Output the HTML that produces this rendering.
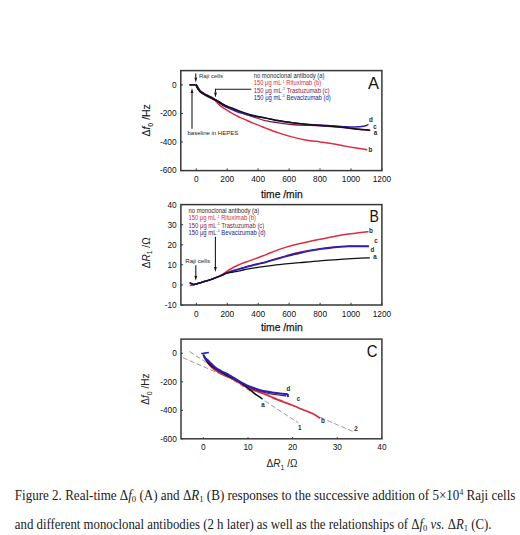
<!DOCTYPE html>
<html><head><meta charset="utf-8"><style>
html,body{margin:0;padding:0;background:#fff;}
svg{display:block;}
</style></head><body>
<svg width="520" height="535" viewBox="0 0 520 535">
<rect width="520" height="535" fill="#fff"/>
<rect x="180.8" y="70.6" width="201.1" height="100.0" fill="none" stroke="#363636" stroke-width="1.5"/>
<line x1="196.3" y1="170.6" x2="196.3" y2="168.4" stroke="#363636" stroke-width="1"/>
<text x="196.3" y="182.2" font-size="8.3" text-anchor="middle" font-weight="normal" fill="#111" font-family='"Liberation Sans", sans-serif' >0</text>
<line x1="227.2" y1="170.6" x2="227.2" y2="168.4" stroke="#363636" stroke-width="1"/>
<text x="227.2" y="182.2" font-size="8.3" text-anchor="middle" font-weight="normal" fill="#111" font-family='"Liberation Sans", sans-serif' >200</text>
<line x1="258.1" y1="170.6" x2="258.1" y2="168.4" stroke="#363636" stroke-width="1"/>
<text x="258.1" y="182.2" font-size="8.3" text-anchor="middle" font-weight="normal" fill="#111" font-family='"Liberation Sans", sans-serif' >400</text>
<line x1="289.1" y1="170.6" x2="289.1" y2="168.4" stroke="#363636" stroke-width="1"/>
<text x="289.1" y="182.2" font-size="8.3" text-anchor="middle" font-weight="normal" fill="#111" font-family='"Liberation Sans", sans-serif' >600</text>
<line x1="320.0" y1="170.6" x2="320.0" y2="168.4" stroke="#363636" stroke-width="1"/>
<text x="320.0" y="182.2" font-size="8.3" text-anchor="middle" font-weight="normal" fill="#111" font-family='"Liberation Sans", sans-serif' >800</text>
<line x1="351.0" y1="170.6" x2="351.0" y2="168.4" stroke="#363636" stroke-width="1"/>
<text x="351.0" y="182.2" font-size="8.3" text-anchor="middle" font-weight="normal" fill="#111" font-family='"Liberation Sans", sans-serif' >1000</text>
<line x1="381.9" y1="170.6" x2="381.9" y2="168.4" stroke="#363636" stroke-width="1"/>
<text x="381.9" y="182.2" font-size="8.3" text-anchor="middle" font-weight="normal" fill="#111" font-family='"Liberation Sans", sans-serif' >1200</text>
<line x1="183.0" y1="84.9" x2="180.8" y2="84.9" stroke="#363636" stroke-width="1"/>
<text x="176.6" y="87.5" font-size="8.3" text-anchor="end" font-weight="normal" fill="#111" font-family='"Liberation Sans", sans-serif' >0</text>
<line x1="183.0" y1="113.5" x2="180.8" y2="113.5" stroke="#363636" stroke-width="1"/>
<text x="176.6" y="116.1" font-size="8.3" text-anchor="end" font-weight="normal" fill="#111" font-family='"Liberation Sans", sans-serif' >-200</text>
<line x1="183.0" y1="142.0" x2="180.8" y2="142.0" stroke="#363636" stroke-width="1"/>
<text x="176.6" y="144.6" font-size="8.3" text-anchor="end" font-weight="normal" fill="#111" font-family='"Liberation Sans", sans-serif' >-400</text>
<line x1="183.0" y1="170.6" x2="180.8" y2="170.6" stroke="#363636" stroke-width="1"/>
<text x="176.6" y="173.2" font-size="8.3" text-anchor="end" font-weight="normal" fill="#111" font-family='"Liberation Sans", sans-serif' >-600</text>
<text x="281.8" y="197.9" font-size="10.3" text-anchor="middle" font-weight="normal" fill="#1a1a1a" font-family='"Liberation Sans", sans-serif' stroke="#1a1a1a" stroke-width="0.25">time /min</text>
<text transform="translate(150.0,120.4) rotate(-90)" font-size="10.4" text-anchor="middle" fill="#1a1a1a" stroke="#1a1a1a" stroke-width="0.12" font-family='"Liberation Sans", sans-serif'>&#916;<tspan font-style="italic">f</tspan><tspan font-size="7" dy="2.5">0</tspan><tspan dy="-2.5"> /Hz</tspan></text>
<text transform="translate(368.00,88.50) scale(1.03,1)" font-size="16" text-anchor="start" font-weight="normal" fill="#111" font-family='"Liberation Sans", sans-serif' >A</text>
<text x="253.7" y="78.2" font-size="6.3" fill="#2a2a2a" font-family='"Liberation Sans", sans-serif' textLength="70.8" lengthAdjust="spacingAndGlyphs">no monoclonal antibody (a)</text>
<text x="253.7" y="85.4" font-size="6.3" fill="#dc2c40" font-family='"Liberation Sans", sans-serif' textLength="67.4" lengthAdjust="spacingAndGlyphs">150 &#956;g mL<tspan font-size="4" dy="-2.6">-1</tspan><tspan dy="2.6"> Rituximab (b)</tspan></text>
<text x="253.7" y="92.5" font-size="6.3" fill="#7e1c44" font-family='"Liberation Sans", sans-serif' textLength="75.8" lengthAdjust="spacingAndGlyphs">150 &#956;g mL<tspan font-size="4" dy="-2.6">-1</tspan><tspan dy="2.6"> Trastuzumab (c)</tspan></text>
<text x="253.7" y="99.7" font-size="6.3" fill="#22228a" font-family='"Liberation Sans", sans-serif' textLength="77.0" lengthAdjust="spacingAndGlyphs">150 &#956;g mL<tspan font-size="4" dy="-2.6">-1</tspan><tspan dy="2.6"> Bevacizumab (d)</tspan></text>
<text x="198.9" y="77.9" font-size="6" text-anchor="start" font-weight="normal" fill="#2a2a2a" font-family='"Liberation Sans", sans-serif' >Raji cells</text>
<text x="187.5" y="134.8" font-size="6" text-anchor="start" font-weight="normal" fill="#222" font-family='"Liberation Sans", sans-serif' >baseline in HEPES</text>
<path d="M195.8,73.5 V77.6" stroke="#1a1a1a" stroke-width="1.1" fill="none"/>
<path d="M194.40,77.6 L195.8,82.6 L197.20,77.6 Z" fill="#111"/>
<path d="M192.0,128.7 V93.0" stroke="#1a1a1a" stroke-width="1.1" fill="none"/>
<path d="M190.60,93.0 L192.0,88.0 L193.40,93.0 Z" fill="#111"/>
<path d="M251.3,89.3 H215.5" stroke="#1a1a1a" stroke-width="1.1" fill="none"/>
<path d="M215.5,88.8 V92.6" stroke="#1a1a1a" stroke-width="1.1" fill="none"/>
<path d="M214.10,92.6 L215.5,97.6 L216.90,92.6 Z" fill="#111"/>
<path d="M189.3,84.9 H195.8" stroke="#111" stroke-width="1.8" fill="none"/>
<path d="M195.6,84.6 C195.8,84.8 196.1,85.0 196.5,85.6 C196.9,86.2 197.4,87.4 198.0,88.4 C198.6,89.4 199.2,90.5 200.2,91.4 C201.2,92.4 203.1,93.4 204.2,94.1 C205.3,94.8 205.9,95.0 206.7,95.4 C207.5,95.8 207.8,96.0 209.0,96.6 C210.2,97.2 212.0,98.1 213.6,99.0 C215.2,99.9 217.2,101.1 218.7,102.0 C220.2,102.9 221.1,103.6 222.5,104.4 C223.9,105.2 226.2,106.4 226.9,106.8" stroke="#1a0a1a" stroke-width="2.3" fill="none"/>
<path d="M195.6,84.6 C195.8,84.8 196.1,85.0 196.5,85.6 C196.9,86.2 197.4,87.4 198.0,88.4 C198.6,89.4 199.2,90.5 200.2,91.4 C201.2,92.4 203.1,93.4 204.2,94.1 C205.3,94.8 205.9,95.0 206.7,95.4 C207.5,95.8 207.8,96.0 209.0,96.6 C210.2,97.2 212.2,98.0 213.6,99.0 C215.0,100.0 216.2,101.6 217.5,102.9 C218.8,104.2 219.9,105.5 221.5,106.7 C223.1,107.9 224.9,109.0 226.9,110.2 C228.9,111.5 231.3,113.0 233.6,114.2 C235.8,115.4 238.2,116.5 240.4,117.6 C242.7,118.6 244.9,119.5 247.1,120.5 C249.3,121.5 251.6,122.5 253.8,123.4 C256.1,124.3 258.7,125.3 260.6,126.1 C262.5,126.8 262.0,126.8 265.0,127.9 C268.0,129.0 274.0,131.4 278.5,132.9 C283.0,134.4 287.4,135.7 291.9,136.9 C296.4,138.1 300.7,139.1 305.4,139.9 C310.1,140.7 315.6,141.3 320.0,141.9 C324.4,142.5 327.7,142.9 331.5,143.6 C335.3,144.2 339.1,145.1 343.0,145.8 C346.9,146.5 350.6,147.1 354.6,147.8 C358.7,148.5 365.2,149.5 367.3,149.8" stroke="#dc2c40" stroke-width="1.5" fill="none"/>
<path d="M195.6,84.6 C195.8,84.8 196.1,85.0 196.5,85.6 C196.9,86.2 197.4,87.4 198.0,88.4 C198.6,89.4 199.2,90.5 200.2,91.4 C201.2,92.4 203.1,93.4 204.2,94.1 C205.3,94.8 205.9,95.0 206.7,95.4 C207.5,95.8 207.8,96.0 209.0,96.6 C210.2,97.2 212.0,98.1 213.6,99.0 C215.2,99.9 217.2,101.0 218.7,101.9 C220.2,102.8 221.1,103.4 222.5,104.2 C223.9,105.0 225.1,105.7 226.9,106.5 C228.8,107.3 231.3,108.3 233.6,109.3 C235.8,110.2 238.2,111.3 240.4,112.2 C242.7,113.1 244.9,114.1 247.1,114.9 C249.3,115.7 250.8,116.1 253.8,117.1 C256.8,118.0 260.9,119.6 265.0,120.6 C269.1,121.5 274.0,122.1 278.5,122.8 C283.0,123.5 287.4,124.1 291.9,124.5 C296.4,124.9 300.7,125.1 305.4,125.3 C310.1,125.5 313.7,125.5 320.0,125.9 C326.3,126.3 337.2,127.1 343.0,127.6 C348.8,128.1 351.1,128.6 354.6,129.0 C358.1,129.4 361.2,129.6 363.8,129.9 C366.4,130.2 369.1,130.5 370.2,130.6" stroke="#7e1c44" stroke-width="1.3" fill="none"/>
<path d="M195.6,84.6 C195.8,84.8 196.1,85.0 196.5,85.6 C196.9,86.2 197.4,87.4 198.0,88.4 C198.6,89.4 199.2,90.5 200.2,91.4 C201.2,92.4 203.1,93.4 204.2,94.1 C205.3,94.8 205.9,95.0 206.7,95.4 C207.5,95.8 207.8,96.0 209.0,96.6 C210.2,97.2 212.0,98.1 213.6,99.0 C215.2,99.9 217.2,101.0 218.7,101.9 C220.2,102.8 221.1,103.7 222.5,104.6 C223.9,105.5 225.1,106.5 226.9,107.4 C228.8,108.4 231.3,109.4 233.6,110.3 C235.8,111.2 238.2,112.2 240.4,112.9 C242.7,113.6 244.9,114.1 247.1,114.6 C249.3,115.1 251.6,115.5 253.8,116.0 C256.1,116.5 257.9,116.8 260.6,117.3 C263.3,117.8 267.0,118.4 270.0,119.0 C273.0,119.6 274.9,120.1 278.5,120.7 C282.1,121.3 287.4,122.0 291.9,122.6 C296.4,123.2 300.7,123.7 305.4,124.1 C310.1,124.5 315.6,124.6 320.0,124.9 C324.4,125.2 327.7,125.5 331.5,125.8 C335.3,126.1 339.1,126.4 343.0,126.6 C346.9,126.8 351.1,127.1 354.6,127.0 C358.1,126.9 361.5,126.6 363.8,126.2 C366.1,125.8 367.7,124.7 368.5,124.4" stroke="#2a20b8" stroke-width="1.4" fill="none"/>
<path d="M195.6,84.6 C195.8,84.8 196.1,85.0 196.5,85.6 C196.9,86.2 197.4,87.4 198.0,88.4 C198.6,89.4 199.2,90.5 200.2,91.4 C201.2,92.4 203.1,93.4 204.2,94.1 C205.3,94.8 205.9,95.0 206.7,95.4 C207.5,95.8 207.8,96.0 209.0,96.6 C210.2,97.2 212.0,98.1 213.6,99.0 C215.2,99.9 217.2,101.1 218.7,101.9 C220.2,102.8 221.1,103.4 222.5,104.1 C223.9,104.8 225.1,105.4 226.9,106.2 C228.8,107.0 231.3,107.9 233.6,108.8 C235.8,109.7 238.2,110.6 240.4,111.4 C242.7,112.2 244.9,112.9 247.1,113.6 C249.3,114.3 251.6,114.9 253.8,115.5 C256.1,116.1 257.9,116.4 260.6,117.0 C263.3,117.6 267.0,118.3 270.0,118.9 C273.0,119.5 274.9,120.0 278.5,120.6 C282.1,121.2 287.4,122.1 291.9,122.7 C296.4,123.3 300.7,123.8 305.4,124.3 C310.1,124.8 315.6,125.1 320.0,125.4 C324.4,125.7 327.7,126.0 331.5,126.3 C335.3,126.6 339.1,126.9 343.0,127.3 C346.9,127.7 351.1,128.3 354.6,128.7 C358.1,129.1 361.2,129.3 363.8,129.6 C366.4,129.8 369.1,130.1 370.2,130.2" stroke="#111" stroke-width="1.5" fill="none"/>
<text transform="translate(371.00,122.00) scale(0.95,1)" font-size="6.6" text-anchor="middle" font-weight="bold" fill="#2a2a2a" font-family='"Liberation Sans", sans-serif' >d</text>
<text transform="translate(375.00,128.80) scale(0.95,1)" font-size="6.6" text-anchor="middle" font-weight="bold" fill="#2a2a2a" font-family='"Liberation Sans", sans-serif' >c</text>
<text transform="translate(375.50,135.20) scale(0.95,1)" font-size="6.6" text-anchor="middle" font-weight="bold" fill="#2a2a2a" font-family='"Liberation Sans", sans-serif' >a</text>
<text transform="translate(370.50,152.20) scale(0.95,1)" font-size="6.6" text-anchor="middle" font-weight="bold" fill="#2a2a2a" font-family='"Liberation Sans", sans-serif' >b</text>
<rect x="180.9" y="204.6" width="201.0" height="100.4" fill="none" stroke="#363636" stroke-width="1.5"/>
<line x1="196.4" y1="305.0" x2="196.4" y2="302.8" stroke="#363636" stroke-width="1"/>
<text x="196.4" y="316.6" font-size="8.3" text-anchor="middle" font-weight="normal" fill="#111" font-family='"Liberation Sans", sans-serif' >0</text>
<line x1="227.3" y1="305.0" x2="227.3" y2="302.8" stroke="#363636" stroke-width="1"/>
<text x="227.3" y="316.6" font-size="8.3" text-anchor="middle" font-weight="normal" fill="#111" font-family='"Liberation Sans", sans-serif' >200</text>
<line x1="258.2" y1="305.0" x2="258.2" y2="302.8" stroke="#363636" stroke-width="1"/>
<text x="258.2" y="316.6" font-size="8.3" text-anchor="middle" font-weight="normal" fill="#111" font-family='"Liberation Sans", sans-serif' >400</text>
<line x1="289.1" y1="305.0" x2="289.1" y2="302.8" stroke="#363636" stroke-width="1"/>
<text x="289.1" y="316.6" font-size="8.3" text-anchor="middle" font-weight="normal" fill="#111" font-family='"Liberation Sans", sans-serif' >600</text>
<line x1="320.1" y1="305.0" x2="320.1" y2="302.8" stroke="#363636" stroke-width="1"/>
<text x="320.1" y="316.6" font-size="8.3" text-anchor="middle" font-weight="normal" fill="#111" font-family='"Liberation Sans", sans-serif' >800</text>
<line x1="351.0" y1="305.0" x2="351.0" y2="302.8" stroke="#363636" stroke-width="1"/>
<text x="351.0" y="316.6" font-size="8.3" text-anchor="middle" font-weight="normal" fill="#111" font-family='"Liberation Sans", sans-serif' >1000</text>
<line x1="381.9" y1="305.0" x2="381.9" y2="302.8" stroke="#363636" stroke-width="1"/>
<text x="381.9" y="316.6" font-size="8.3" text-anchor="middle" font-weight="normal" fill="#111" font-family='"Liberation Sans", sans-serif' >1200</text>
<line x1="183.1" y1="305.0" x2="180.9" y2="305.0" stroke="#363636" stroke-width="1"/>
<text x="176.7" y="308.0" font-size="8.3" text-anchor="end" font-weight="normal" fill="#111" font-family='"Liberation Sans", sans-serif' >-10</text>
<line x1="183.1" y1="284.9" x2="180.9" y2="284.9" stroke="#363636" stroke-width="1"/>
<text x="176.7" y="287.9" font-size="8.3" text-anchor="end" font-weight="normal" fill="#111" font-family='"Liberation Sans", sans-serif' >0</text>
<line x1="183.1" y1="264.8" x2="180.9" y2="264.8" stroke="#363636" stroke-width="1"/>
<text x="176.7" y="267.8" font-size="8.3" text-anchor="end" font-weight="normal" fill="#111" font-family='"Liberation Sans", sans-serif' >10</text>
<line x1="183.1" y1="244.8" x2="180.9" y2="244.8" stroke="#363636" stroke-width="1"/>
<text x="176.7" y="247.8" font-size="8.3" text-anchor="end" font-weight="normal" fill="#111" font-family='"Liberation Sans", sans-serif' >20</text>
<line x1="183.1" y1="224.7" x2="180.9" y2="224.7" stroke="#363636" stroke-width="1"/>
<text x="176.7" y="227.7" font-size="8.3" text-anchor="end" font-weight="normal" fill="#111" font-family='"Liberation Sans", sans-serif' >30</text>
<line x1="183.1" y1="204.6" x2="180.9" y2="204.6" stroke="#363636" stroke-width="1"/>
<text x="176.7" y="207.6" font-size="8.3" text-anchor="end" font-weight="normal" fill="#111" font-family='"Liberation Sans", sans-serif' >40</text>
<text x="281.8" y="331.4" font-size="10.3" text-anchor="middle" font-weight="normal" fill="#1a1a1a" font-family='"Liberation Sans", sans-serif' stroke="#1a1a1a" stroke-width="0.25">time /min</text>
<text transform="translate(149.6,252.8) rotate(-90)" font-size="10" text-anchor="middle" fill="#222" font-family='"Liberation Sans", sans-serif'>&#916;<tspan font-style="italic">R</tspan><tspan font-size="7" dy="2.5">1</tspan><tspan dy="-2.5"> /&#937;</tspan></text>
<text transform="translate(369.50,222.20) scale(0.88,1)" font-size="16" text-anchor="start" font-weight="normal" fill="#111" font-family='"Liberation Sans", sans-serif' >B</text>
<text x="188.5" y="213.1" font-size="6.3" fill="#2a2a2a" font-family='"Liberation Sans", sans-serif' textLength="70.8" lengthAdjust="spacingAndGlyphs">no monoclonal antibody (a)</text>
<text x="188.5" y="220.3" font-size="6.3" fill="#dc2c40" font-family='"Liberation Sans", sans-serif' textLength="67.4" lengthAdjust="spacingAndGlyphs">150 &#956;g mL<tspan font-size="4" dy="-2.6">-1</tspan><tspan dy="2.6"> Rituximab (b)</tspan></text>
<text x="188.5" y="227.5" font-size="6.3" fill="#7e1c44" font-family='"Liberation Sans", sans-serif' textLength="75.8" lengthAdjust="spacingAndGlyphs">150 &#956;g mL<tspan font-size="4" dy="-2.6">-1</tspan><tspan dy="2.6"> Trastuzumab (c)</tspan></text>
<text x="188.5" y="234.7" font-size="6.3" fill="#22228a" font-family='"Liberation Sans", sans-serif' textLength="77.0" lengthAdjust="spacingAndGlyphs">150 &#956;g mL<tspan font-size="4" dy="-2.6">-1</tspan><tspan dy="2.6"> Bevacizumab (d)</tspan></text>
<text x="185.3" y="263.3" font-size="6.2" text-anchor="start" font-weight="normal" fill="#222" font-family='"Liberation Sans", sans-serif' >Raji cells</text>
<path d="M195.8,265.2 V275.8" stroke="#1a1a1a" stroke-width="1.1" fill="none"/>
<path d="M194.40,275.8 L195.8,280.8 L197.20,275.8 Z" fill="#111"/>
<path d="M215.4,236.8 V266.9" stroke="#1a1a1a" stroke-width="1.1" fill="none"/>
<path d="M214.00,266.9 L215.4,271.9 L216.80,266.9 Z" fill="#111"/>
<path d="M189.8,285.4 C190.2,285.4 191.3,285.4 192.0,285.3 C192.7,285.2 192.9,284.9 194.2,284.5 C195.4,284.1 198.0,283.4 199.5,283.0 C201.0,282.6 202.1,282.2 203.4,281.8 C204.7,281.4 205.9,281.1 207.2,280.7 C208.5,280.3 209.8,279.9 211.1,279.5 C212.4,279.1 213.6,278.5 214.9,278.0 C216.2,277.5 217.5,277.1 218.8,276.5 C220.1,275.9 221.4,275.0 222.6,274.3 C223.8,273.6 224.3,273.1 225.8,272.1 C227.3,271.1 229.6,269.6 231.5,268.5 C233.4,267.4 235.4,266.4 237.3,265.5 C239.2,264.6 241.0,263.8 243.1,263.0 C245.2,262.2 247.5,261.5 250.0,260.6 C252.5,259.7 255.3,258.7 258.0,257.7 C260.7,256.7 262.3,256.1 266.2,254.6 C270.1,253.1 275.9,250.4 281.5,248.6 C287.1,246.8 293.6,245.1 300.0,243.6 C306.4,242.1 313.2,240.7 320.0,239.3 C326.8,237.9 333.8,236.3 340.6,235.2 C347.4,234.1 356.2,233.2 360.8,232.6 C365.4,232.0 367.2,231.8 368.5,231.6" stroke="#dc2c40" stroke-width="1.5" fill="none"/>
<path d="M189.8,283.2 C190.2,283.3 191.3,283.8 192.0,284.0 C192.7,284.2 192.9,284.7 194.2,284.5 C195.4,284.3 198.0,283.4 199.5,283.0 C201.0,282.6 202.1,282.2 203.4,281.8 C204.7,281.4 205.9,281.1 207.2,280.7 C208.5,280.3 209.8,279.9 211.1,279.5 C212.4,279.1 213.6,278.5 214.9,278.0 C216.2,277.5 217.5,277.0 218.8,276.5 C220.1,276.0 221.3,275.5 222.6,274.9 C223.9,274.3 225.0,273.6 226.5,273.0 C228.0,272.4 229.7,271.7 231.5,271.1 C233.3,270.5 235.4,270.0 237.3,269.4 C239.2,268.8 241.0,268.2 243.1,267.6 C245.2,267.0 247.5,266.3 250.0,265.6 C252.5,264.9 255.3,264.3 258.0,263.6 C260.7,262.9 262.3,262.7 266.2,261.6 C270.1,260.5 275.9,258.6 281.5,257.0 C287.1,255.4 293.6,253.6 300.0,252.2 C306.4,250.8 313.2,249.5 320.0,248.5 C326.8,247.5 335.5,246.7 340.6,246.3 C345.7,245.9 346.0,246.0 350.7,245.9 C355.4,245.8 365.9,245.8 368.9,245.8" stroke="#7e1c44" stroke-width="1.2" fill="none"/>
<path d="M189.8,283.2 C190.2,283.3 191.3,283.8 192.0,284.0 C192.7,284.2 192.9,284.7 194.2,284.5 C195.4,284.3 198.0,283.4 199.5,283.0 C201.0,282.6 202.1,282.2 203.4,281.8 C204.7,281.4 205.9,281.1 207.2,280.7 C208.5,280.3 209.8,279.9 211.1,279.5 C212.4,279.1 213.6,278.5 214.9,278.0 C216.2,277.5 217.5,277.0 218.8,276.5 C220.1,276.0 221.3,275.5 222.6,274.9 C223.9,274.3 225.0,273.6 226.5,273.0 C228.0,272.4 229.7,271.9 231.5,271.3 C233.3,270.8 235.4,270.2 237.3,269.7 C239.2,269.1 241.0,268.6 243.1,268.0 C245.2,267.4 247.5,266.7 250.0,266.1 C252.5,265.5 255.3,264.9 258.0,264.2 C260.7,263.5 262.3,263.3 266.2,262.2 C270.1,261.1 275.9,259.2 281.5,257.7 C287.1,256.2 293.6,254.5 300.0,253.1 C306.4,251.7 313.2,250.3 320.0,249.3 C326.8,248.3 335.5,247.4 340.6,246.9 C345.7,246.4 346.0,246.5 350.7,246.4 C355.4,246.3 365.9,246.5 368.9,246.5" stroke="#2a20b8" stroke-width="1.6" fill="none"/>
<path d="M189.6,282.6 C190.0,282.8 191.2,283.3 192.0,283.6 C192.8,283.9 192.9,284.6 194.2,284.5 C195.4,284.4 198.0,283.4 199.5,283.0 C201.0,282.6 202.1,282.2 203.4,281.8 C204.7,281.4 205.9,281.1 207.2,280.7 C208.5,280.3 209.8,279.9 211.1,279.5 C212.4,279.1 213.6,278.5 214.9,278.0 C216.2,277.5 217.5,277.0 218.8,276.5 C220.1,276.0 221.3,275.5 222.6,275.0 C223.9,274.5 225.0,273.8 226.5,273.4 C228.0,272.9 229.7,272.6 231.5,272.3 C233.3,272.0 235.4,271.7 237.3,271.3 C239.2,270.9 241.0,270.4 243.1,270.0 C245.2,269.6 247.5,269.1 250.0,268.6 C252.5,268.2 255.3,267.7 258.0,267.3 C260.7,266.9 262.3,266.7 266.2,266.2 C270.1,265.7 275.9,264.9 281.5,264.3 C287.1,263.7 293.6,263.3 300.0,262.7 C306.4,262.1 313.2,261.4 320.0,260.9 C326.8,260.3 333.8,259.9 340.6,259.4 C347.4,258.9 355.9,258.4 360.8,258.1 C365.7,257.8 368.4,257.9 369.9,257.8" stroke="#111" stroke-width="1.3" fill="none"/>
<text transform="translate(370.90,233.30) scale(0.95,1)" font-size="6.6" text-anchor="middle" font-weight="bold" fill="#2a2a2a" font-family='"Liberation Sans", sans-serif' >b</text>
<text transform="translate(375.90,243.40) scale(0.95,1)" font-size="6.6" text-anchor="middle" font-weight="bold" fill="#2a2a2a" font-family='"Liberation Sans", sans-serif' >c</text>
<text transform="translate(372.50,251.50) scale(0.95,1)" font-size="6.6" text-anchor="middle" font-weight="bold" fill="#2a2a2a" font-family='"Liberation Sans", sans-serif' >d</text>
<text transform="translate(374.90,259.20) scale(0.95,1)" font-size="6.6" text-anchor="middle" font-weight="bold" fill="#2a2a2a" font-family='"Liberation Sans", sans-serif' >a</text>
<rect x="181.0" y="339.1" width="200.9" height="99.7" fill="none" stroke="#3a3a3a" stroke-width="1.5"/>
<line x1="203.3" y1="438.8" x2="203.3" y2="437.2" stroke="#363636" stroke-width="1"/>
<text x="203.3" y="450.4" font-size="8.3" text-anchor="middle" font-weight="normal" fill="#111" font-family='"Liberation Sans", sans-serif' >0</text>
<line x1="248.0" y1="438.8" x2="248.0" y2="437.2" stroke="#363636" stroke-width="1"/>
<text x="248.0" y="450.4" font-size="8.3" text-anchor="middle" font-weight="normal" fill="#111" font-family='"Liberation Sans", sans-serif' >10</text>
<line x1="292.6" y1="438.8" x2="292.6" y2="437.2" stroke="#363636" stroke-width="1"/>
<text x="292.6" y="450.4" font-size="8.3" text-anchor="middle" font-weight="normal" fill="#111" font-family='"Liberation Sans", sans-serif' >20</text>
<line x1="337.3" y1="438.8" x2="337.3" y2="437.2" stroke="#363636" stroke-width="1"/>
<text x="337.3" y="450.4" font-size="8.3" text-anchor="middle" font-weight="normal" fill="#111" font-family='"Liberation Sans", sans-serif' >30</text>
<line x1="381.9" y1="438.8" x2="381.9" y2="437.2" stroke="#363636" stroke-width="1"/>
<text x="381.9" y="450.4" font-size="8.3" text-anchor="middle" font-weight="normal" fill="#111" font-family='"Liberation Sans", sans-serif' >40</text>
<line x1="181.0" y1="353.3" x2="183.0" y2="353.3" stroke="#363636" stroke-width="1"/>
<text x="176.8" y="356.3" font-size="8.3" text-anchor="end" font-weight="normal" fill="#111" font-family='"Liberation Sans", sans-serif' >0</text>
<line x1="181.0" y1="381.8" x2="183.0" y2="381.8" stroke="#363636" stroke-width="1"/>
<text x="176.8" y="384.8" font-size="8.3" text-anchor="end" font-weight="normal" fill="#111" font-family='"Liberation Sans", sans-serif' >-200</text>
<line x1="181.0" y1="410.3" x2="183.0" y2="410.3" stroke="#363636" stroke-width="1"/>
<text x="176.8" y="413.3" font-size="8.3" text-anchor="end" font-weight="normal" fill="#111" font-family='"Liberation Sans", sans-serif' >-400</text>
<line x1="181.0" y1="438.8" x2="183.0" y2="438.8" stroke="#363636" stroke-width="1"/>
<text x="176.8" y="441.8" font-size="8.3" text-anchor="end" font-weight="normal" fill="#111" font-family='"Liberation Sans", sans-serif' >-600</text>
<text x="282" y="467.3" font-size="10" text-anchor="middle" fill="#222" font-family='"Liberation Sans", sans-serif'>&#916;<tspan font-style="italic">R</tspan><tspan font-size="7" dy="2.5">1</tspan><tspan dy="-2.5"> /&#937;</tspan></text>
<text transform="translate(149.2,389.2) rotate(-90)" font-size="10" text-anchor="middle" fill="#222" font-family='"Liberation Sans", sans-serif'>&#916;<tspan font-style="italic">f</tspan><tspan font-size="7" dy="2.5">0</tspan><tspan dy="-2.5"> /Hz</tspan></text>
<text transform="translate(366.80,357.00) scale(0.93,1)" font-size="16" text-anchor="start" font-weight="normal" fill="#111" font-family='"Liberation Sans", sans-serif' >C</text>
<path d="M189.6,351.5 L298.2,422.8" stroke="#9a9a9a" stroke-width="1" stroke-dasharray="5,2.5" fill="none"/>
<path d="M182.9,357.7 L353.1,431.6" stroke="#9a9a9a" stroke-width="1" stroke-dasharray="5,2.5" fill="none"/>
<path d="M204.0,356.0 C204.2,356.4 204.2,357.1 205.0,358.5 C205.8,359.9 207.4,362.6 209.0,364.5 C210.6,366.4 212.4,368.2 214.6,369.8 C216.8,371.4 219.4,372.9 222.0,374.2 C224.6,375.5 227.6,376.6 230.0,377.7 C232.4,378.8 234.2,379.8 236.3,381.0 C238.4,382.2 240.4,383.6 242.5,384.9 C244.6,386.1 246.6,387.5 248.8,388.5 C251.0,389.5 253.7,390.2 255.8,391.0 C257.9,391.8 259.6,392.3 261.5,393.0 C263.4,393.7 265.4,394.5 267.3,395.3 C269.2,396.1 271.0,397.0 273.1,397.9 C275.2,398.8 276.4,399.2 280.0,400.6 C283.6,402.0 291.7,405.0 295.0,406.3 C298.3,407.6 297.2,407.4 300.0,408.5 C302.8,409.6 308.1,411.5 311.5,413.1 C314.9,414.7 318.8,417.4 320.2,418.3" stroke="#dc2c40" stroke-width="1.7" fill="none"/>
<path d="M204.2,356.5 C204.8,357.3 206.4,359.7 208.0,361.5 C209.6,363.3 211.7,365.6 214.0,367.5 C216.3,369.4 219.3,371.2 222.0,372.8 C224.7,374.4 227.6,375.5 230.0,376.8 C232.4,378.1 234.2,379.2 236.3,380.4 C238.4,381.6 240.4,383.0 242.5,384.2 C244.6,385.4 246.7,386.5 248.8,387.4 C250.9,388.3 252.9,389.1 255.0,389.8 C257.1,390.5 259.2,391.1 261.3,391.7 C263.4,392.2 265.4,392.7 267.5,393.1 C269.6,393.5 271.7,394.0 273.8,394.3 C275.9,394.6 278.0,394.9 280.0,395.2 C282.0,395.5 285.0,395.9 286.0,396.0" stroke="#7e1c44" stroke-width="1.3" fill="none"/>
<path d="M205.0,358.0 C205.8,359.2 207.8,362.9 210.0,365.0 C212.2,367.1 215.5,368.7 218.5,370.5 C221.5,372.3 225.0,374.2 228.0,375.8 C231.0,377.4 233.9,378.5 236.3,379.8 C238.7,381.1 240.4,382.3 242.5,383.8 C244.6,385.3 246.7,387.1 248.8,388.8 C250.9,390.5 252.9,392.2 255.0,393.8 C257.1,395.4 260.1,397.3 261.3,398.1 C262.6,398.9 262.3,398.7 262.5,398.8" stroke="#111" stroke-width="1.5" fill="none"/>
<path d="M203.2,354.4 C203.6,355.1 204.7,357.4 205.6,358.5 C206.5,359.6 207.6,360.0 208.5,360.9 C209.4,361.8 210.4,362.9 211.3,363.8 C212.2,364.8 213.1,365.7 214.2,366.6 C215.3,367.6 216.5,368.5 218.1,369.5 C219.7,370.5 222.0,371.5 223.8,372.4 C225.6,373.3 226.6,373.6 228.7,374.8 C230.8,376.0 234.0,378.0 236.3,379.4 C238.6,380.8 240.4,382.0 242.5,383.1 C244.6,384.2 246.7,385.4 248.8,386.3 C250.9,387.2 252.9,387.8 255.0,388.5 C257.1,389.2 259.2,389.9 261.3,390.4 C263.4,390.9 265.4,391.2 267.5,391.6 C269.6,392.0 271.7,392.5 273.8,392.8 C275.9,393.1 277.9,393.3 280.0,393.5 C282.1,393.7 285.0,393.9 286.3,394.1 C287.6,394.3 287.3,394.1 287.6,394.6 C287.9,395.1 288.0,396.5 288.1,396.9" stroke="#2a20b8" stroke-width="2.1" fill="none"/>
<path d="M201.3,353.2 L203.2,353.8 M203.2,353.4 L208.9,352.5" stroke="#2a20b8" stroke-width="1.6" fill="none"/>
<text transform="translate(288.40,391.40) scale(0.95,1)" font-size="6.6" text-anchor="middle" font-weight="bold" fill="#2a2a2a" font-family='"Liberation Sans", sans-serif' >d</text>
<text transform="translate(298.50,400.60) scale(0.95,1)" font-size="6.6" text-anchor="middle" font-weight="bold" fill="#2a2a2a" font-family='"Liberation Sans", sans-serif' >c</text>
<text transform="translate(263.00,407.00) scale(0.95,1)" font-size="6.6" text-anchor="middle" font-weight="bold" fill="#2a2a2a" font-family='"Liberation Sans", sans-serif' >a</text>
<text transform="translate(323.00,423.20) scale(0.95,1)" font-size="6.6" text-anchor="middle" font-weight="bold" fill="#2a2a2a" font-family='"Liberation Sans", sans-serif' >b</text>
<text transform="translate(299.70,430.00) scale(0.95,1)" font-size="6.6" text-anchor="middle" font-weight="bold" fill="#2a2a2a" font-family='"Liberation Sans", sans-serif' >1</text>
<text transform="translate(356.00,431.00) scale(0.95,1)" font-size="6.6" text-anchor="middle" font-weight="bold" fill="#2a2a2a" font-family='"Liberation Sans", sans-serif' >2</text>
<text x="14.8" y="500.1" font-size="13.55" fill="#1a1a1a" font-family='"Liberation Serif", serif' textLength="500.6" lengthAdjust="spacingAndGlyphs">Figure 2. Real-time &#916;<tspan font-style="italic">f</tspan><tspan font-size="9" dy="2">0</tspan><tspan dy="-2"> (A) and &#916;</tspan><tspan font-style="italic">R</tspan><tspan font-size="9" dy="2">1</tspan><tspan dy="-2"> (B) responses to the successive addition of 5&#215;10</tspan><tspan font-size="8" dy="-5">4</tspan><tspan dy="5"> Raji cells</tspan></text>
<text x="14.8" y="529.2" font-size="13.55" fill="#1a1a1a" font-family='"Liberation Serif", serif' textLength="476.7" lengthAdjust="spacingAndGlyphs">and different monoclonal antibodies (2 h later) as well as the relationships of &#916;<tspan font-style="italic">f</tspan><tspan font-size="9" dy="2">0</tspan><tspan dy="-2"> </tspan><tspan font-style="italic">vs.</tspan> &#916;<tspan font-style="italic">R</tspan><tspan font-size="9" dy="2">1</tspan><tspan dy="-2"> (C).</tspan></text>
</svg>
</body></html>
